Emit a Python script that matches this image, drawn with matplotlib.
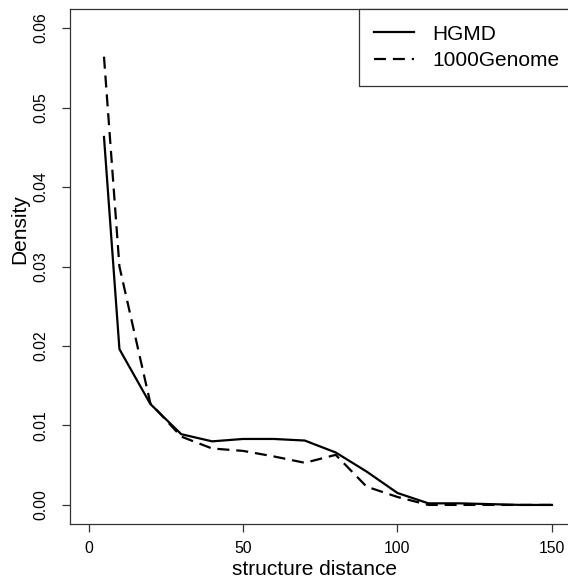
import matplotlib
matplotlib.use("Agg")
import matplotlib.pyplot as plt

# density of structure distance
dist = [5, 10, 20, 30, 40, 50, 60, 70, 80, 90, 100, 110, 120, 130, 140, 150]
hgmd = [0.0463, 0.0196, 0.0127, 0.0089, 0.0080, 0.0083, 0.0083, 0.0081,
        0.0066, 0.0042, 0.0015, 0.0002, 0.0002, 0.0001, 0.0000, 0.0000]
g1000 = [0.0564, 0.0300, 0.0128, 0.0086, 0.0071, 0.0068, 0.0061, 0.0053,
         0.0063, 0.0023, 0.0010, 0.0000, 0.0000, 0.0000, 0.0000, 0.0000]
xticks = [0, 50, 100, 150]
yticks = [0.00, 0.01, 0.02, 0.03, 0.04, 0.05, 0.06]

plt.rcParams["font.family"] = ["Liberation Sans", "DejaVu Sans"]

W, H = 568, 579
fig = plt.figure(figsize=(W / 100, H / 100), dpi=100)
# axes box in pixels: left 70, right ~570 (just past the edge), top 9, bottom 524
L, R, T, B = 70, 570.5, 9, 524
ax = fig.add_axes([L / W, 1 - B / H, (R - L) / W, (B - T) / H])

ax.plot(dist, hgmd, "-", color="black", lw=1.6, label="HGMD")
ln, = ax.plot(dist, g1000, "--", color="black", lw=1.6, label="1000Genome")
ln.set_dashes((5.4, 3.1))

ax.set_xlim(-6, 156)
ax.set_ylim(-0.0024, 0.0624)
ax.set_xticks(xticks)
ax.set_xticklabels([str(v) for v in xticks])
ax.set_yticks(yticks)
ax.set_yticklabels([f"{v:.2f}" for v in yticks])
for s in ax.spines.values():
    s.set_color("#333333"); s.set_linewidth(0.9)
ax.tick_params(axis="both", direction="out", length=5.8, width=0.9,
               color="#333333", labelsize=11.3)
ax.tick_params(axis="x", pad=6.5)
ax.tick_params(axis="y", pad=9.5)
for t in ax.get_yticklabels():
    t.set_rotation(90); t.set_va("center"); t.set_ha("right")

ax.set_xlabel("structure distance", fontsize=15)
ax.set_ylabel("Density", fontsize=15)
ax.xaxis.label.set_va("baseline")
ax.xaxis.set_label_coords((315 - L) / (R - L), (B - 575) / (B - T))
ax.yaxis.label.set_va("center")
ax.yaxis.set_label_coords((20 - L) / (R - L), (B - 229) / (B - T))

# legend frame runs off the right edge like in the reference
leg = ax.legend(loc="upper right", bbox_to_anchor=(1 + 5 / (R - L), 1),
                borderaxespad=0, fontsize=15, fancybox=False, framealpha=1,
                edgecolor="#333333", handlelength=1.9, handletextpad=0.9,
                labelspacing=0.35, borderpad=0.75)
leg.get_frame().set_linewidth(0.9)

fig.savefig("out.png", dpi=100)
